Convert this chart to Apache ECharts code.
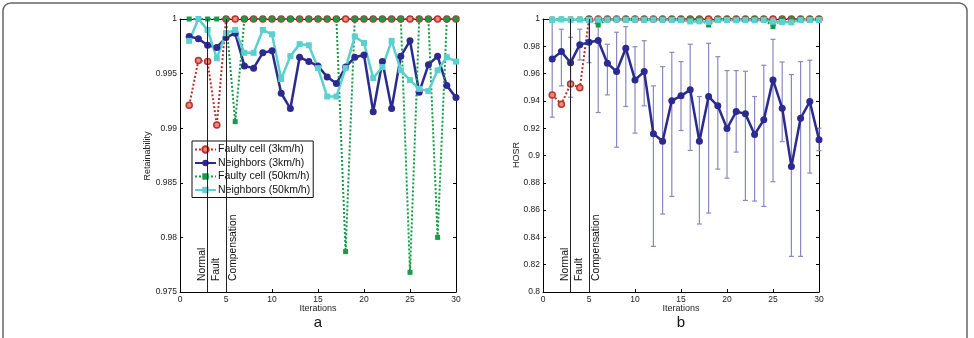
<!DOCTYPE html>
<html>
<head>
<meta charset="utf-8">
<script src="https://cdn.jsdelivr.net/npm/echarts@6/dist/echarts.min.js"></script>
<style>
  html, body { margin:0; padding:0; background:#fff; }
  #chart { width:974px; height:338px; }
</style>
</head>
<body>
<div id="chart"></div>
<script>
// iterations on the x axis
var iterations = [1,2,3,4,5,6,7,8,9,10,11,12,13,14,15,16,17,18,19,20,21,22,23,24,25,26,27,28,29,30];

// (a) Retainability
var retFaulty3 = [0.9921,0.9962,0.9961,0.9903,1,1,1,1,1,1,1,1,1,1,1,1,1,1,1,1,1,1,1,1,1,1,1,1,1,1];
var retNeighbors3 = [0.9984,0.9982,0.9976,0.9974,0.9983,0.9987,0.9957,0.9955,0.9969,0.9971,0.9932,0.9918,0.9965,0.9961,0.9957,0.9947,0.9941,0.9956,0.9965,0.9967,0.9915,0.9961,0.9918,0.9966,0.9980,0.9933,0.9958,0.9966,0.9939,0.9928];
var retFaulty50 = [1,1,1,1,1,0.9906,1,1,1,1,1,1,1,1,1,1,1,0.9787,1,1,1,1,1,1,0.9768,1,1,0.9800,1,1];
var retNeighbors50 = [0.9980,1.0000,0.9990,0.9964,0.9987,0.9990,0.9969,0.9969,0.9990,0.9986,0.9945,0.9966,0.9977,0.9976,0.9955,0.9929,0.9929,0.9955,0.9984,0.9978,0.9946,0.9956,0.9980,0.9953,0.9944,0.9936,0.9934,0.9953,0.9965,0.9961];

// (b) HOSR
var hosrFaulty3 = [0.9444,0.9376,0.9524,0.9497,1,1,1,1,1,1,1,1,1,1,1,1,1,1,1,1,1,1,1,1,1,1,1,1,1,1];
var hosrNeighbors3 = [0.9707,0.9761,0.9680,0.9812,0.9829,0.9843,0.9676,0.9615,0.9786,0.9554,0.9615,0.9159,0.9105,0.9402,0.9437,0.9481,0.9105,0.9432,0.9364,0.9198,0.9322,0.9305,0.9154,0.9261,0.9554,0.9347,0.8920,0.9273,0.9395,0.9115];
var hosrUpper = [1.013,0.9925,0.9866,0.9925,1.002,1.037,0.9815,0.9903,0.9944,0.9797,0.9841,0.9510,0.9651,0.9756,0.9688,0.9815,0.9432,0.9822,0.9724,0.9622,0.9622,0.9617,0.9432,0.9661,0.9851,0.9685,0.9593,0.9688,0.9698,0.9200];
var hosrLower = [0.9281,0.9510,0.9427,0.9700,0.9680,0.9315,0.9444,0.9061,0.9359,0.9164,0.9364,0.8334,0.8571,0.8700,0.9183,0.9037,0.8498,0.8578,0.8900,0.8834,0.9025,0.8671,0.8666,0.8627,0.8808,0.9102,0.8261,0.8261,0.8871,0.9035];
var hosrFaulty50 = [1,1,1,1,1,0.9956,1,1,1,1,1,1,1,1,1,1,1,0.9956,1,1,1,1,1,1,0.9944,1,1,1,1,1];
var hosrNeighbors50 = [0.9993,0.9996,0.9994,0.9995,0.9993,0.9995,0.9994,0.9996,0.9994,0.9995,0.9994,0.9995,0.9994,0.9993,0.9991,0.9982,0.9983,0.9978,0.9992,0.9992,0.9991,0.9992,0.9991,0.9993,0.9981,0.9978,0.9975,0.9992,0.9993,0.9993];

var names = ['Faulty cell (3km/h)','Neighbors (3km/h)','Faulty cell (50km/h)','Neighbors (50km/h)'];
var phaseLines = [3, 5];

var FONT = 'Liberation Sans, Arial, sans-serif';
var RED = '#b8332b', BLUE = '#2c2a8e', GREEN = '#139c4a', CYAN = '#5ccfcf';

function pairs(vals){
	return iterations.map(function(x, k){ return [x, vals[k]]; });
}

function axesFor(grid, ymin, ymax, yint, digits){
	var tick = { show:true, inside:true, length:3, lineStyle:{color:'#000', width:1} };
	var line = { show:true, onZero:false, lineStyle:{color:'#000', width:1} };
	return {
		x: [
			{ type:'value', gridIndex:grid, min:0, max:30, interval:5, axisLine:line, axisTick:tick,
			  splitLine:{show:false},
			  axisLabel:{fontSize:8.5, color:'#222', margin:3, fontFamily:FONT} },
			{ type:'value', gridIndex:grid, position:'top', min:0, max:30, interval:5, axisLine:line, axisTick:tick,
			  splitLine:{show:false}, axisLabel:{show:false} }
		],
		y: [
			{ type:'value', gridIndex:grid, min:ymin, max:ymax, interval:yint, axisLine:line, axisTick:tick,
			  splitLine:{show:false},
			  axisLabel:{fontSize:8.5, color:'#222', margin:3, fontFamily:FONT,
			    formatter:function(v){ return String(+v.toFixed(digits)); }} },
			{ type:'value', gridIndex:grid, position:'right', min:ymin, max:ymax, interval:yint, axisLine:line, axisTick:tick,
			  splitLine:{show:false}, axisLabel:{show:false} }
		]
	};
}

var axA = axesFor(0, 0.975, 1, 0.005, 3);
var axB = axesFor(1, 0.8, 1, 0.02, 2);

function faultySeries(name, vals, color, symbol, size, xi, yi, fill){
	return {
		name:name, type:'line', xAxisIndex:xi, yAxisIndex:yi, data:pairs(vals), clip:false,
		symbol:symbol, symbolSize:size, showAllSymbol:true,
		lineStyle:{color:color, width:2, type:[2,2]},
		itemStyle:{color:fill || color, borderColor:color, borderWidth:fill ? 1.5 : 0},
		emphasis:{disabled:true}, animation:false
	};
}
function neighborSeries(name, vals, color, symbol, size, xi, yi){
	return {
		name:name, type:'line', xAxisIndex:xi, yAxisIndex:yi, data:pairs(vals), clip:false,
		symbol:symbol, symbolSize:size, showAllSymbol:true,
		lineStyle:{color:color, width:2.5},
		itemStyle:{color:color, borderWidth:0},
		emphasis:{disabled:true}, animation:false
	};
}

var errData = iterations.map(function(x, k){ return [x, hosrLower[k], hosrUpper[k]]; });

// error bars, cut at the top of the plot box
function renderErr(params, api){
	var x = api.value(0);
	var lo = api.coord([x, api.value(1)]);
	var hi = api.coord([x, api.value(2)]);
	var top = Math.max(hi[1], params.coordSys.y);
	var st = { stroke:'#8a88c2', lineWidth:1.2 };
	var kids = [
		{ type:'line', shape:{x1:lo[0], y1:lo[1], x2:lo[0], y2:top}, style:st },
		{ type:'line', shape:{x1:lo[0]-2.5, y1:lo[1], x2:lo[0]+2.5, y2:lo[1]}, style:st }
	];
	if (hi[1] >= params.coordSys.y) {
		kids.push({ type:'line', shape:{x1:hi[0]-2.5, y1:hi[1], x2:hi[0]+2.5, y2:hi[1]}, style:st });
	}
	return { type:'group', children:kids };
}

function phaseMark(){
	return {
		silent:true, symbol:'none', label:{show:false},
		lineStyle:{color:'#222', width:1, type:'solid'},
		data: phaseLines.map(function(v){ return {xAxis:v}; })
	};
}

var redFill = '#e48a7e';

var series = [
	// (a)
	faultySeries(names[0], retFaulty3, RED, 'circle', 6, 0, 0, redFill),
	neighborSeries(names[1], retNeighbors3, BLUE, 'circle', 7, 0, 0),
	faultySeries(names[2], retFaulty50, GREEN, 'rect', 5, 0, 0),
	neighborSeries(names[3], retNeighbors50, CYAN, 'rect', 6, 0, 0),
	// (b)
	{ type:'custom', xAxisIndex:2, yAxisIndex:2, renderItem:renderErr, data:errData,
	  encode:{x:0, y:[1,2]}, silent:true, animation:false, z:1 },
	faultySeries(names[0], hosrFaulty3, RED, 'circle', 6, 2, 2, redFill),
	neighborSeries(names[1], hosrNeighbors3, BLUE, 'circle', 7, 2, 2),
	faultySeries(names[2], hosrFaulty50, GREEN, 'rect', 5, 2, 2),
	neighborSeries(names[3], hosrNeighbors50, CYAN, 'rect', 6, 2, 2)
];
series[0].markLine = phaseMark();
series[5].markLine = phaseMark();

var myChart = echarts.init(document.getElementById('chart'));
var option = {
	backgroundColor:'#fff',
	animation:false,
	textStyle:{fontFamily:FONT},
	grid:[
		{ left:180, right:518, top:19, bottom:46, containLabel:false },
		{ left:543, right:155, top:19, bottom:46, containLabel:false }
	],
	xAxis: axA.x.concat(axB.x),
	yAxis: axA.y.concat(axB.y),
	legend:{
		data:names, orient:'vertical', left:192, top:141,
		itemWidth:21, itemHeight:8, itemGap:2.5,
		padding:[3,3,2,2],
		borderColor:'#111', borderWidth:1, borderRadius:0, backgroundColor:'#fff',
		selectedMode:false,
		textStyle:{fontSize:10.5, color:'#111', lineHeight:8, height:8, padding:[0,0,0,-3], fontFamily:FONT}
	},
	series:series
};
myChart.setOption(option);

// texts that sit at data positions (phase names, axis titles, panel letters)
function px(grid, x, y){ return myChart.convertToPixel({gridIndex:grid}, [x, y]); }
function vtext(p, txt){
	return { type:'text', x:p[0], y:p[1], rotation:Math.PI/2,
	  style:{ text:txt, fontSize:10.3, fill:'#111', fontFamily:FONT, align:'left', verticalAlign:'middle' } };
}
var g = [];
[[0, 0.975], [1, 0.8]].forEach(function(d){
	var grid = d[0], ymin = d[1];
	var base = px(grid, 0, ymin)[1] - 11;
	g.push(vtext([px(grid, 2.45, ymin)[0], base], 'Normal'));
	g.push(vtext([px(grid, 3.95, ymin)[0], base], 'Fault'));
	g.push(vtext([px(grid, 5.8, ymin)[0], base], 'Compensation'));
});
g.push({ type:'text', x:318, y:309, style:{text:'Iterations', fontSize:9, fill:'#222', fontFamily:FONT, align:'center', verticalAlign:'middle'} });
g.push({ type:'text', x:681, y:309, style:{text:'Iterations', fontSize:9, fill:'#222', fontFamily:FONT, align:'center', verticalAlign:'middle'} });
g.push({ type:'text', x:148, y:156, rotation:Math.PI/2, style:{text:'Retainability', fontSize:9, fill:'#222', fontFamily:FONT, align:'center', verticalAlign:'middle'} });
g.push({ type:'text', x:517, y:155, rotation:Math.PI/2, style:{text:'HOSR', fontSize:9, fill:'#222', fontFamily:FONT, align:'center', verticalAlign:'middle'} });
g.push({ type:'text', x:318, y:323, style:{text:'a', fontSize:15, fill:'#111', fontFamily:FONT, align:'center', verticalAlign:'middle'} });
g.push({ type:'text', x:681, y:323, style:{text:'b', fontSize:15, fill:'#111', fontFamily:FONT, align:'center', verticalAlign:'middle'} });
// figure frame
g.push({ type:'rect', shape:{x:3, y:3, width:964, height:345, r:8}, style:{fill:'none', stroke:'#666', lineWidth:1.5}, z:-1 });
myChart.setOption({ graphic:g });

window.addEventListener('resize', function(){ myChart.resize(); });
</script>
</body>
</html>
